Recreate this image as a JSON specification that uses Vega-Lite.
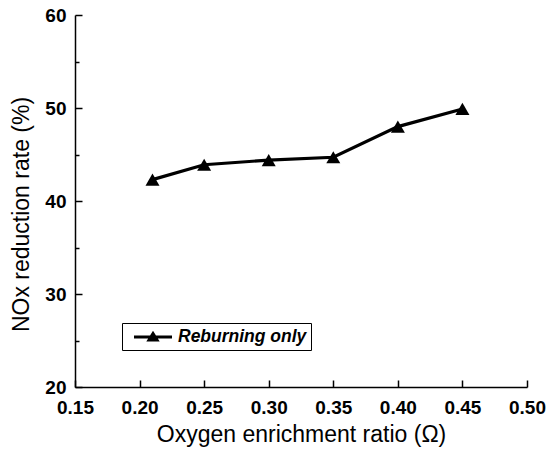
{
  "$schema": "https://vega.github.io/schema/vega-lite/v6.json",
  "width": 452,
  "height": 372,
  "autosize": {"type": "none"},
  "padding": {"left": 75, "top": 15, "right": 29, "bottom": 65},
  "background": "white",
  "config": {
    "view": {"stroke": null},
    "font": "Liberation Sans",
    "axis": {
      "domainColor": "black",
      "domainWidth": 1.5,
      "tickColor": "black",
      "tickWidth": 1.5,
      "labelColor": "black",
      "labelFont": "Liberation Sans",
      "labelFontWeight": "bold",
      "labelFontSize": 19,
      "labelFlush": false,
      "labelOverlap": false,
      "titleFont": "Liberation Sans",
      "titleFontWeight": "normal",
      "titleFontSize": 23,
      "titleColor": "black",
      "grid": false
    }
  },
  "data": {
    "values": [
      {"omega": 0.21, "nox": 42.3, "series": "Reburning only"},
      {"omega": 0.25, "nox": 43.9, "series": "Reburning only"},
      {"omega": 0.30, "nox": 44.4, "series": "Reburning only"},
      {"omega": 0.35, "nox": 44.7, "series": "Reburning only"},
      {"omega": 0.40, "nox": 48.0, "series": "Reburning only"},
      {"omega": 0.45, "nox": 49.9, "series": "Reburning only"}
    ]
  },
  "encoding": {
    "x": {
      "field": "omega",
      "type": "quantitative",
      "scale": {"domain": [0.15, 0.5], "nice": false, "zero": false},
      "axis": {
        "title": "Oxygen enrichment ratio (Ω)",
        "values": [0.15, 0.2, 0.25, 0.3, 0.35, 0.4, 0.45, 0.5],
        "format": ".2f",
        "tickSize": -7,
        "labelPadding": 18,
        "titleY": 36
      }
    },
    "y": {
      "field": "nox",
      "type": "quantitative",
      "scale": {"domain": [20, 60], "nice": false, "zero": false},
      "axis": {
        "title": "NOx reduction rate (%)",
        "values": [20, 25, 30, 35, 40, 45, 50, 55, 60],
        "labelExpr": "datum.value % 10 === 0 ? datum.label : ''",
        "tickSize": {"condition": {"test": "datum.value % 10 === 0", "value": -7}, "value": -4},
        "labelPadding": 16,
        "titleX": -42,
        "titleY": 199
      }
    }
  },
  "layer": [
    {
      "mark": {"type": "line", "color": "black", "strokeWidth": 3.2}
    },
    {
      "mark": {"type": "point", "shape": "triangle-up", "filled": true, "size": 196, "opacity": 1},
      "encoding": {
        "color": {
          "field": "series",
          "type": "nominal",
          "scale": {"range": ["black"]},
          "legend": {
            "title": null,
            "orient": "none",
            "legendX": 47,
            "legendY": 308,
            "padding": 4,
            "strokeColor": "black",
            "fillColor": "white",
            "symbolType": "M-0.235,0H4.235M2,-0.41L2.47,0.35L1.53,0.35Z",
            "symbolSize": 289,
            "symbolStrokeWidth": 3,
            "symbolStrokeColor": "black",
            "symbolFillColor": "black",
            "labelFont": "Liberation Sans",
            "labelFontSize": 17.5,
            "labelFontWeight": "bold",
            "labelFontStyle": "italic",
            "labelColor": "black",
            "labelOffset": 32
          }
        }
      }
    }
  ]
}
